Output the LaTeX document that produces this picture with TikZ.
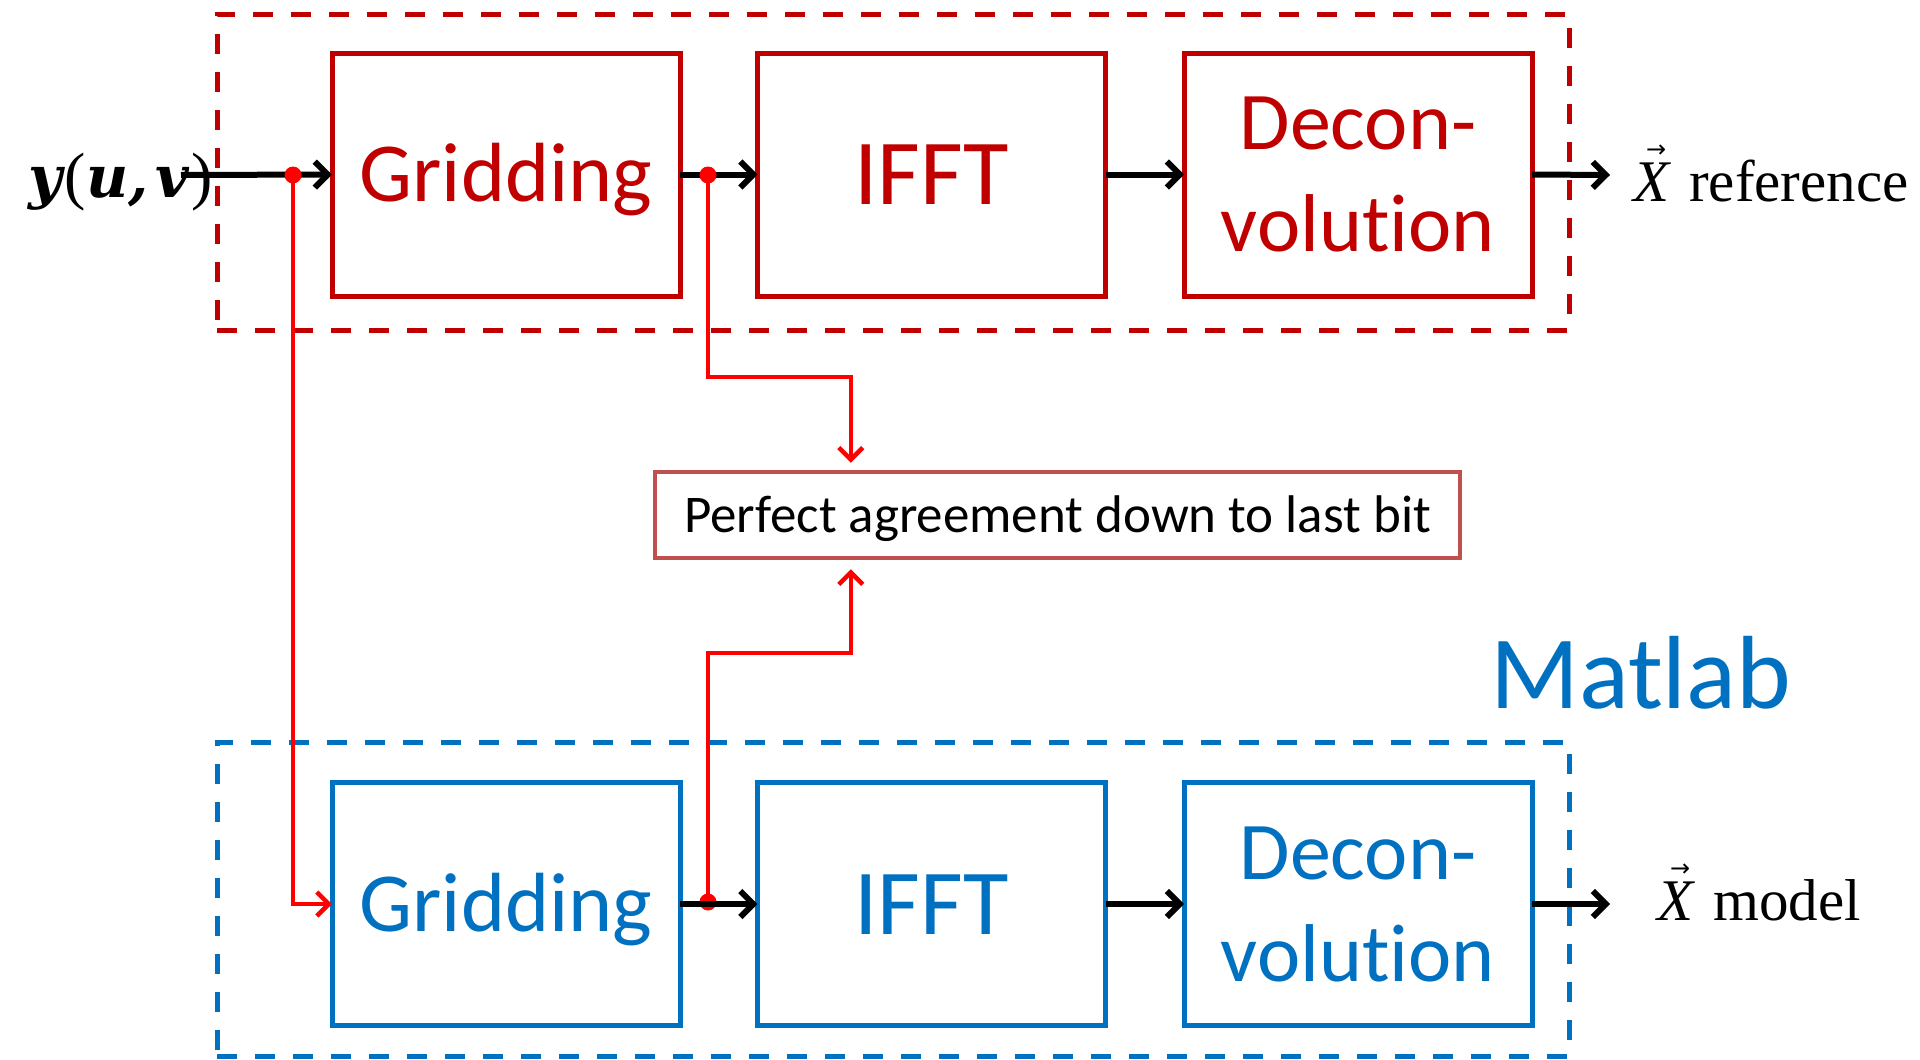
\documentclass[tikz,border=0pt]{standalone}
\usepackage{fontspec}
\setmainfont[Ligatures=NoCommon]{Carlito}
\newfontfamily\tnr{Liberation Serif}
\newfontfamily\dvserif{DejaVu Serif}
\newfontfamily\dvsans{DejaVu Sans}
\usetikzlibrary{arrows.meta}
\definecolor{refred}{HTML}{C00000}
\definecolor{matblue}{HTML}{0070C0}
\definecolor{linkred}{HTML}{FF0000}
\definecolor{agreered}{HTML}{C0504D}
\newcommand\twoline[2]{\vtop{\halign{\hfil##\hfil\cr#1\cr#2\cr}}}
\newcommand\vecX{{\itshape X}\llap{\raisebox{44pt}{\dvsans\fontsize{24}{24}\selectfont →}\hspace{3pt}}}
\begin{document}
\begin{tikzpicture}[x=1pt,y=-1pt,
  stage/.style={draw, line width=5pt, minimum width=348pt, minimum height=243pt, inner sep=0pt, outer sep=0pt},
  refstage/.style={stage, draw=refred, text=refred},
  matstage/.style={stage, draw=matblue, text=matblue},
  gridtext/.style={font=\fontsize{84}{100}\selectfont, text height=54pt, text depth=0pt},
  iffttext/.style={font=\fontsize{93}{110}\selectfont, text height=60pt, text depth=0pt},
  decontext/.style={font=\fontsize{82}{102}\selectfont, text height=52pt, text depth=102pt},
  frame/.style={draw, line width=5pt, dash pattern=on 20pt off 18pt, inner sep=0pt, outer sep=0pt},
  flow/.style={line width=6pt, -{Straight Barb[length=13pt,width=26pt]}},
  link/.style={line width=4.5pt, draw=linkred, -{Straight Barb[length=12pt,width=24pt]}},
  junction/.style={circle, fill=linkred, minimum size=17pt, inner sep=0pt},
  outtext/.style={font=\tnr\fontsize{59}{70}\selectfont, anchor=base west, inner sep=0pt},
]
\useasboundingbox (0,0) rectangle (1920,1060);

% frames
\node[frame, draw=refred, minimum width=1352pt, minimum height=316pt] (reff) at (893,172) {};
\node[frame, draw=matblue, minimum width=1352pt, minimum height=314pt] (matf) at (893,899) {};

% top row
\node[refstage, gridtext] (g1) at (506,174.5) {Gridding};
\node[refstage, iffttext] (i1) at (931.5,174.5) {IFFT};
\node[refstage, decontext] (c1) at (1358,174.5) {\twoline{Decon-}{volut\kern0pt ion}};

% bottom row
\node[matstage, gridtext] (g2) at (506,904) {Gridding};
\node[matstage, iffttext] (i2) at (931.5,904) {IFFT};
\node[matstage, decontext] (c2) at (1358,904) {\twoline{Decon-}{volut\kern0pt ion}};

% agreement box
\node[draw=agreered, line width=4.5pt, minimum width=805pt, minimum height=86pt, inner sep=0pt,
      font=\fontsize{53}{60}\selectfont, text height=34pt, text depth=0pt] (agree) at (1057.5,515)
      {Perfect agreement down to last bit};

% Matlab label
\node[anchor=base west, inner sep=0pt, text=matblue, font=\fontsize{104}{110}\selectfont] (matlab) at (1490,708) {Matlab};

% input label
\node[anchor=base west, inner sep=0pt, font=\fontsize{58}{70}\selectfont] (yuv) at (28,197)
  {{\dvserif\bfseries\itshape y}\kern3pt{\tnr\fontsize{64}{70}\selectfont(}{\dvserif\bfseries\itshape u,\hspace{7pt}v}\kern2pt{\tnr\fontsize{64}{70}\selectfont)}};
\coordinate (yin) at (181,175);

% outputs
\coordinate (out1) at (1610,175);
\coordinate (out2) at (1610,904);
\node[outtext] (xref) at (1633,201) {\vecX\hspace{20pt}reference};
\node[outtext] (xmod) at (1657,920) {\vecX\hspace{20pt}model};

% top flow
\draw[flow] (yin) -- (g1.west);
\draw[flow] (g1.east) -- (i1.west);
\draw[flow] (i1.east) -- (c1.west);
\draw[flow] (c1.east) -- (out1);

% junctions and links
\node[junction] (d1) at (293,175) {};
\node[junction] (d2) at (708,175) {};
\node[junction] (d3) at (708,902) {};
\draw[link] (d1.center) |- (g2.west);
\draw[link, shorten >=7pt] (d2.center) -- ++(0,202) -| ([xshift=198pt]agree.north west);
\draw[link, shorten >=9pt] (d3.center) -- ++(0,-249) -| ([xshift=198pt]agree.south west);

% bottom flow
\draw[flow] (g2.east) -- (i2.west);
\draw[flow] (i2.east) -- (c2.west);
\draw[flow] (c2.east) -- (out2);
\end{tikzpicture}
\end{document}
